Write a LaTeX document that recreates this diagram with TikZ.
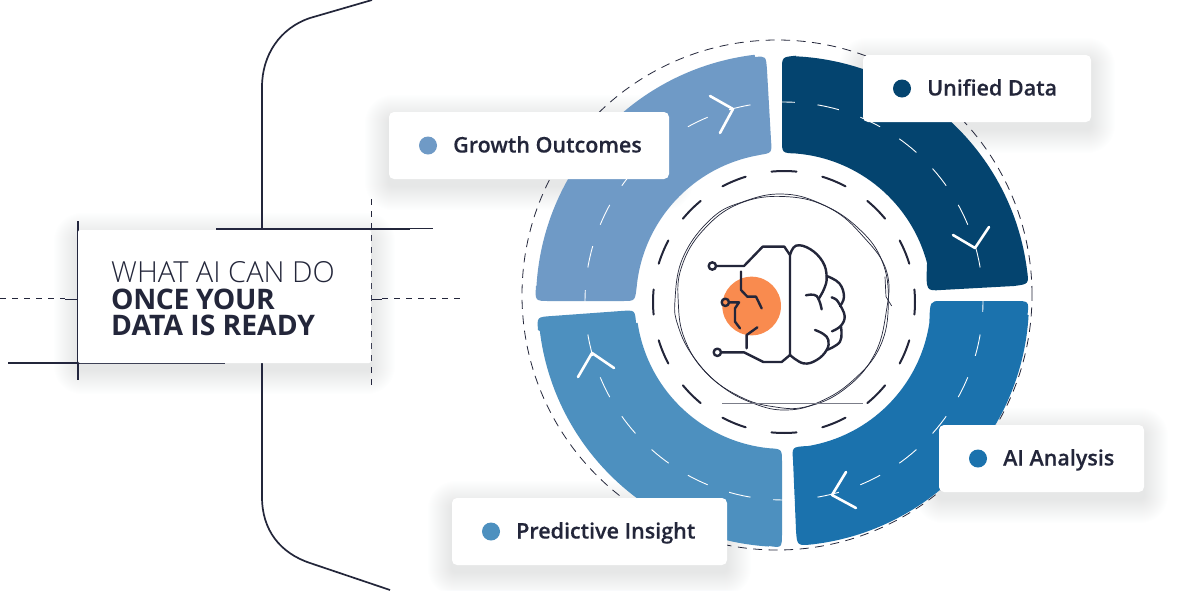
\documentclass[tikz,border=0pt]{standalone}
\usepackage{fontspec}
\setmainfont{Open Sans}
\newfontfamily\lightfont{Open Sans Light}
\newfontfamily\semifont{Open Sans Semibold}[FakeBold=0.25]
\definecolor{ink}{HTML}{23263A}
\definecolor{navyseg}{HTML}{04446F}
\definecolor{growthseg}{HTML}{6F9AC6}
\definecolor{aiseg}{HTML}{1B72AD}
\definecolor{predseg}{HTML}{4D90BF}
\definecolor{orangedot}{HTML}{F98B4F}
\definecolor{shadowtint}{HTML}{7F97BD}
\tikzset{
  x=1pt,y=1pt,
  frameline/.style={draw=ink,line width=1.7pt},
  guideline/.style={draw=ink,line width=2pt},
  guidedash/.style={draw=ink,line width=.8pt,dash pattern=on 6pt off 6pt},
  outerring/.style={draw=ink,line width=.8pt,dash pattern=on 9pt off 6.5pt},
  innerdash/.style={draw=ink,line width=2pt,line cap=round},
  roaddash/.style={draw=white,line width=.9pt},
  chevron/.style={draw=white,line width=2.6pt,line cap=round,line join=round},
  scribble/.style={draw=ink,line width=.7pt},
  brainline/.style={draw=ink,line width=2.4pt,line cap=round,line join=round},
  cardbox/.style={fill=white,rounded corners=5pt,inner sep=0pt},
  cardtext/.style={font=\semifont\fontsize{21.5}{24}\selectfont,text=ink,anchor=base west,inner sep=0pt},
  titletext/.style={text=ink,anchor=base west,inner sep=0pt},
}
\newcommand{\softshadow}[4]{%
  \foreach \s in {1,...,24}{%
    \pgfmathsetmacro{\rr}{4+\s}
    \fill[shadowtint,opacity=.0065,rounded corners=\rr pt]
      (#1-\s,-#2+\s-7) rectangle (#3+\s,-#4-\s-7);}}
\newcommand{\labelcard}[7]{% name x1 y1 x2 y2 colour text
  \node[cardbox,minimum width=#4pt-#2pt,minimum height=#5pt-#3pt] (#1) at ({(#2+#4)/2},{-(#3+#5)/2}) {};
  \fill[#6] (#2+39,{-(#3+#5)/2}) circle[radius=9];
  \node[cardtext] (#1text) at (#2+64,{-(#3+#5)/2-7}) {#7};}
\begin{document}
\begin{tikzpicture}
\useasboundingbox (0,0) rectangle (1200,-590);
\fill[white] (0,0) rectangle (1200,-590);

% bracket
\draw[frameline] (372,0) -- (310,-18) .. controls (280,-28) and (262,-55) .. (262,-87) -- (262,-497)
  .. controls (262,-530) and (280,-553) .. (310,-563) -- (390,-590);
% guides
\draw[guideline] (216,-228.5) -- (410,-228.5);
\draw[draw=ink,line width=1pt] (410,-228.5) -- (433,-228.5);
\draw[guideline] (8,-363) -- (225,-363);
\draw[draw=ink,line width=1.6pt] (78,-221) -- (78,-380);
\draw[guidedash] (371,-199) -- (371,-385);
\draw[guidedash] (0,-298.5) -- (65,-298.5);
\draw[draw=ink,line width=1.6pt] (65,-299.5) -- (78,-299.5);
\draw[draw=ink,line width=1.6pt] (371,-299.5) -- (382,-299.5);
\draw[guidedash] (382,-298.5) -- (463,-298.5);

% title card
\softshadow{78}{230}{371}{363}
\node[fill=white,rounded corners=2pt,minimum width=293pt,minimum height=133pt,inner sep=0pt] (titlecard) at (224.5,-296.5) {};
\node[titletext,font=\lightfont\fontsize{29}{30}\selectfont] (title1) at (111,-282.7) {WHAT AI CAN DO};
\node[titletext,font=\bfseries\fontsize{28.3}{30}\selectfont] (title2) at (111,-309.3) {\addfontfeature{LetterSpace=-1.5}ONCE YOUR};
\node[titletext,font=\bfseries\fontsize{28.3}{30}\selectfont] (title3) at (111,-335) {DATA IS READY};

% card shadows lie under the ring
\softshadow{863}{55}{1091}{122}
\softshadow{389}{112}{669}{179}
\softshadow{939}{425}{1144}{492}
\softshadow{452}{498}{727}{565}

% outer dashed ring
\draw[outerring] (777,-295) circle[radius=255];

% segments
\coordinate (C) at (784,-301);
\fill[navyseg] (782,-70) .. controls (782,-57) .. (796,-55.7)
  -- ([shift={(C)}]87.2:245) arc[start angle=87.2,end angle=7.3,radius=245] .. controls (1029,-284) .. (1014,-286)
  -- (941,-290) .. controls (926,-291) .. (927,-264)
  -- ([shift={(C)}]14.5:148) arc[start angle=14.5,end angle=85.3,radius=148] .. controls (782,-153) .. (782,-140) -- cycle;
\fill[growthseg] (755,-57) .. controls (766,-56) .. (767,-70) -- (771,-140) .. controls (772,-153) .. (759,-155)
  -- ([shift={(C)}]99.7:148) arc[start angle=99.7,end angle=174.6,radius=148] .. controls (635,-301) .. (623,-301)
  -- (550,-301) .. controls (535,-301) .. (536,-286)
  -- ([shift={(C)}]176.5:248) arc[start angle=176.5,end angle=96.8,radius=248] -- cycle;
\fill[aiseg] (1014,-301) .. controls (1029,-301) .. (1027.5,-315)
  -- ([shift={(C)}]-3.3:245) arc[start angle=-3.3,end angle=-83,radius=245] .. controls (797,-546) .. (796,-530)
  -- (793,-460) .. controls (792,-447) .. (807,-446)
  -- ([shift={(C)}]-81:147) arc[start angle=-81,end angle=-8.5,radius=147] .. controls (930,-301) .. (941,-301) -- cycle;
\fill[predseg] (538,-330) .. controls (537,-317) .. (552,-316) -- (621,-311) .. controls (635,-310) .. (636,-323)
  -- ([shift={(C)}]-171.5:148) arc[start angle=-171.5,end angle=-96,radius=148] .. controls (782,-449) .. (782,-462)
  -- (782,-532) .. controls (782,-548) .. (769,-546)
  -- ([shift={(C)}]-93.5:246) arc[start angle=-93.5,end angle=-173,radius=246] -- cycle;

% white road dashes
\foreach \k in {0,...,27}{
  \pgfmathsetmacro{\aa}{\k*360/28-3.15}
  \pgfmathsetmacro{\bb}{\k*360/28+3.15}
  \draw[roaddash] ([shift={(784,-301)}]\aa:199) arc[start angle=\aa,end angle=\bb,radius=199];
}
% chevrons
\draw[chevron] (953,-235) -- (975,-248) -- (989,-227);
\draw[chevron] (710,-96) -- (733,-109) -- (720,-133);
\draw[chevron] (846,-472) -- (832,-495) -- (856,-508);
\draw[chevron] (578,-377) -- (592,-353) -- (614,-368);

% inner dashed ring
\foreach \k in {0,...,15}{
  \pgfmathsetmacro{\aa}{\k*22.5-5.5}
  \pgfmathsetmacro{\bb}{\k*22.5+5.5}
  \draw[innerdash] ([shift={(784,-302)}]\aa:131) arc[start angle=\aa,end angle=\bb,radius=131];
}

% brain icon, in coordinates of a 3x crop
\begin{scope}[shift={(640,-180)},x=.33333pt,y=-.33333pt]
  \fill[orangedot] (335,378) circle[radius=88];
  \draw[scribble] plot[smooth cycle,tension=.7] coordinates {(105,360)(130,230)(215,115)(310,65)(425,42)(540,70)(650,140)(725,240)(745,370)(720,500)(640,600)(540,665)(440,690)(340,670)(240,615)(160,530)(115,440)};
  \draw[scribble] plot[smooth cycle,tension=.7] coordinates {(115,370)(125,260)(190,150)(300,70)(440,50)(570,85)(670,170)(740,275)(738,400)(700,530)(610,630)(500,680)(400,680)(300,650)(200,580)(135,480)};
  \draw[scribble] (735,290) -- (738,350) -- (755,378);
  \draw[draw=ink!60,line width=1.2pt] (246,671) -- (668,671);
  \draw[brainline] (228,258) -- (312,258) -- (368,200) -- (433,200) -- (450,225) -- (450,525) -- (425,546) -- (370,546) -- (312,517) -- (243,517);
  \draw[brainline] (217,258) circle[radius=11];
  \draw[brainline] (232,517) circle[radius=11];
  \draw[brainline] (256,367) circle[radius=11];
  \draw[brainline] (303,275) -- (303,330) -- (322,350) -- (348,350) -- (365,385);
  \draw[brainline] (267,367) -- (297,367) -- (285,385) -- (285,425) -- (300,445);
  \draw[brainline] (320,505) -- (320,465) -- (352,442);
  \draw[brainline] plot[smooth,tension=.7] coordinates {(450,225)(468,197)(510,207)(548,245)(560,290)(553,325)(535,358)};
  \draw[brainline] plot[smooth,tension=.7] coordinates {(560,288)(598,310)(612,350)(600,378)};
  \draw[brainline] plot[smooth,tension=.7] coordinates {(600,375)(614,408)(603,437)(576,454)};
  \draw[brainline] plot[smooth,tension=.7] coordinates {(603,440)(600,485)(560,510)};
  \draw[brainline] plot[smooth,tension=.7] coordinates {(450,525)(490,550)(530,540)(560,510)(565,480)(550,462)(525,450)};
  \draw[brainline] plot[smooth,tension=.7] coordinates {(498,346)(530,348)(545,388)};
  \draw[brainline] (575,352) .. controls (590,358) .. (600,375);
\end{scope}

% label cards
\labelcard{unified}{863}{55}{1091}{122}{navyseg}{Unified Data}
\labelcard{growth}{389}{112}{669}{179}{growthseg}{Growth Outcomes}
\labelcard{analysis}{939}{425}{1144}{492}{aiseg}{AI Analysis}
\labelcard{predictive}{452}{498}{727}{565}{predseg}{Predictive Insight}
\end{tikzpicture}
\end{document}
